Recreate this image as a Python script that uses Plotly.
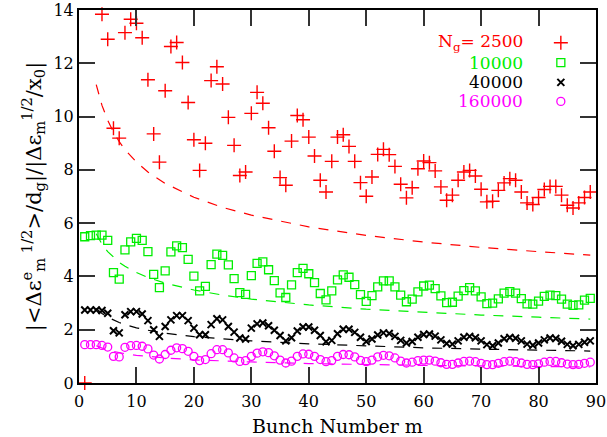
import plotly.graph_objects as go

# ---------------- data ----------------
m = list(range(1, 90))

red_2500 = [0.0, None, None, 13.84, 12.9, 9.56, 9.19, 13.15, 13.65, 13.5,
            12.96, 11.38, 9.35, 8.29, 10.97, 12.63, 12.78, 12.03, 10.53, 9.13,
            7.98, 9.0, 11.35, 11.87, 11.22, 9.97, 8.92, 7.79, 7.92, 10.12,
            10.91, 10.5, 9.58, 8.70, 7.71, 7.42, 9.08, 10.04, 9.88, 9.23,
            8.52, 7.61, 7.17, 8.32, 9.23, 9.32, 8.88, 8.32, 7.52, 7.01,
            7.73, 8.58, 8.77, 8.57, 8.13, 7.46, 6.95, 7.33, 8.04, 8.33,
            8.27, 7.96, 7.36, 6.86, 7.05, 7.61, 7.92, 7.98, 7.77, 7.27,
            6.80, 6.82, 7.23, 7.51, 7.67, 7.61, 7.17, 6.76, 6.70, 6.96,
            7.26, 7.38, 7.38, 7.05, 6.67, 6.57, 6.76, 6.96, 7.17]

green_10000 = [5.49, 5.53, 5.55, 5.55, 5.35, 4.14, 3.90, 5.0, 5.30, 5.43,
               5.35, 4.93, 4.08, 3.58, 4.21, 4.92, 5.15, 5.08, 4.64, 4.01,
               3.46, 3.63, 4.44, 4.84, 4.79, 4.43, 3.92, 3.39, 3.33, 4.03,
               4.49, 4.55, 4.25, 3.84, 3.38, 3.21, 3.68, 4.14, 4.30, 4.10,
               3.77, 3.36, 3.12, 3.46, 3.87, 4.06, 3.97, 3.69, 3.32, 3.06,
               3.28, 3.61, 3.83, 3.83, 3.61, 3.30, 3.05, 3.15, 3.42, 3.64,
               3.67, 3.54, 3.27, 3.02, 3.03, 3.26, 3.47, 3.58, 3.46, 3.23,
               2.98, 3.00, 3.16, 3.37, 3.43, 3.37, 3.17, 2.97, 2.96, 3.07,
               3.25, 3.30, 3.28, 3.15, 2.96, 2.91, 2.93, 3.11, 3.18]

black_40000 = [2.74, 2.74, 2.74, 2.72, 2.62, 1.96, 1.88, 2.56, 2.68, 2.68,
               2.59, 2.34, 2.0, 1.75, 2.12, 2.37, 2.53, 2.53, 2.34, 2.06,
               1.81, 1.81, 2.19, 2.41, 2.37, 2.12, 1.91, 1.69, 1.65, 2.06,
               2.22, 2.25, 2.15, 1.98, 1.78, 1.58, 1.70, 1.95, 2.10, 2.10,
               1.98, 1.78, 1.55, 1.60, 1.85, 2.02, 2.02, 1.90, 1.72, 1.56,
               1.65, 1.80, 1.88, 1.86, 1.75, 1.60, 1.50, 1.56, 1.72, 1.82,
               1.84, 1.76, 1.62, 1.48, 1.46, 1.58, 1.72, 1.75, 1.70, 1.58,
               1.44, 1.40, 1.50, 1.66, 1.71, 1.68, 1.58, 1.46, 1.42, 1.50,
               1.62, 1.69, 1.67, 1.57, 1.45, 1.40, 1.45, 1.53, 1.58]

magenta_160000 = [1.44, 1.44, 1.44, 1.41, 1.35, 1.00, 0.98, 1.34, 1.40, 1.41,
                  1.38, 1.28, 1.05, 0.90, 1.07, 1.23, 1.32, 1.29, 1.19, 1.00,
                  0.84, 0.88, 1.10, 1.25, 1.25, 1.13, 0.94, 0.81, 0.84, 1.00,
                  1.12, 1.17, 1.14, 1.02, 0.86, 0.75, 0.82, 1.00, 1.09, 1.08,
                  1.00, 0.88, 0.80, 0.84, 1.00, 1.07, 1.06, 0.98, 0.85, 0.80,
                  0.86, 0.98, 1.04, 1.02, 0.94, 0.82, 0.75, 0.78, 0.84, 0.86,
                  0.86, 0.82, 0.76, 0.70, 0.70, 0.75, 0.81, 0.82, 0.80, 0.74,
                  0.69, 0.69, 0.74, 0.80, 0.82, 0.80, 0.75, 0.70, 0.69, 0.72,
                  0.78, 0.81, 0.81, 0.76, 0.71, 0.69, 0.70, 0.74, 0.78]

# dashed reference curves
m_curve = [3, 4, 5, 6, 7, 8, 10, 12, 15, 20, 25, 30, 40, 50, 60, 70, 80, 89]
red_curve = [11.2, 10.42, 9.86, 9.42, 9.06, 8.76, 8.29, 7.92, 7.49, 6.97,
             6.59, 6.30, 5.86, 5.54, 5.29, 5.09, 4.93, 4.80]
green_curve = [5.6, 5.21, 4.93, 4.71, 4.53, 4.38, 4.15, 3.96, 3.75, 3.49,
               3.30, 3.15, 2.93, 2.77, 2.65, 2.55, 2.47, 2.40]
black_curve = [2.8, 2.61, 2.47, 2.36, 2.27, 2.19, 2.07, 1.98, 1.87, 1.74,
               1.65, 1.58, 1.47, 1.39, 1.32, 1.27, 1.23, 1.20]
magenta_curve = [1.4, 1.30, 1.23, 1.18, 1.13, 1.10, 1.04, 0.99, 0.94, 0.87,
                 0.82, 0.79, 0.73, 0.69, 0.66, 0.64, 0.62, 0.60]

legend_labels = ["N<sub>g</sub>= 2500", "10000", "40000", "160000"]
x_ticks = [0, 10, 20, 30, 40, 50, 60, 70, 80, 90]
y_ticks = [0, 2, 4, 6, 8, 10, 12, 14]

# ---------------- styles ----------------
RED, GREEN, BLACK, MAG = "#ff0000", "#00ee00", "#000000", "#ff00ff"
FONT = "DejaVu Serif"

series = [
    (red_2500, red_curve, RED, dict(symbol="cross-thin", size=10, line=dict(color=RED, width=1.4))),
    (green_10000, green_curve, GREEN, dict(symbol="square-open", size=8, color=GREEN, line=dict(color=GREEN, width=1.3))),
    (black_40000, black_curve, BLACK, dict(symbol="x-thin", size=7, line=dict(color=BLACK, width=2))),
    (magenta_160000, magenta_curve, MAG, dict(symbol="circle-open", size=8, color=MAG, line=dict(color=MAG, width=1.3))),
]

fig = go.Figure()
for vals, curve, col, mk in series:
    fig.add_trace(go.Scatter(x=m_curve, y=curve, mode="lines",
                             line=dict(color=col, width=1.2, dash="10px,9px"),
                             showlegend=False, hoverinfo="skip"))
for vals, curve, col, mk in series:
    fig.add_trace(go.Scatter(x=m, y=vals, mode="markers", marker=mk,
                             showlegend=False, cliponaxis=False))

# legend: text (annotations) right-aligned, symbol to the right
LEG_TEXT_X = 0.863
LEG_SYM_X = 0.932
LEG_Y = [0.912, 0.859, 0.806, 0.755]
for lab, y, (vals, curve, col, mk) in zip(legend_labels, LEG_Y, series):
    fig.add_annotation(x=LEG_TEXT_X, y=y, xref="paper", yref="paper",
                       text=lab, showarrow=False, xanchor="right", yanchor="middle",
                       font=dict(family=FONT, size=17, color=col))
    fig.add_trace(go.Scatter(x=[LEG_SYM_X], y=[y], xaxis="x2", yaxis="y2",
                             mode="markers", marker=mk, showlegend=False,
                             hoverinfo="skip"))

axis_common = dict(showline=True, linewidth=2, linecolor="black", mirror="ticks",
                   ticks="inside", ticklen=16, tickwidth=1.5, tickcolor="#333333",
                   showgrid=False, zeroline=False, automargin=False,
                   ticklabeloverflow="allow",
                   tickfont=dict(family=FONT, size=16, color="black"))

fig.update_layout(
    width=607, height=437,
    margin=dict(l=79, r=11, t=10, b=54),
    paper_bgcolor="white", plot_bgcolor="white",
    xaxis=dict(range=[0, 90], tickvals=x_ticks, **axis_common,
               ticklabelstandoff=3,
               title=dict(text="Bunch Number m", standoff=10,
                          font=dict(family=FONT, size=19, color="black"))),
    yaxis=dict(range=[0, 14], tickvals=y_ticks, **axis_common,
               title=dict(text="|&lt;Δε<sup>e</sup><sub>m</sub><sup> 1/2</sup>&gt;/d<sub>g</sub>|/|Δε<sub>m</sub><sup>1/2</sup>/x<sub>0</sub>|",
                          standoff=6,
                          font=dict(family=FONT, size=21, color="black"))),
    xaxis2=dict(range=[0, 1], overlaying="x", visible=False),
    yaxis2=dict(range=[0, 1], overlaying="y", visible=False),
)

fig.write_html("out.html", config={"displayModeBar": False},
               post_script="document.body.style.margin='0';document.body.style.padding='0';")
